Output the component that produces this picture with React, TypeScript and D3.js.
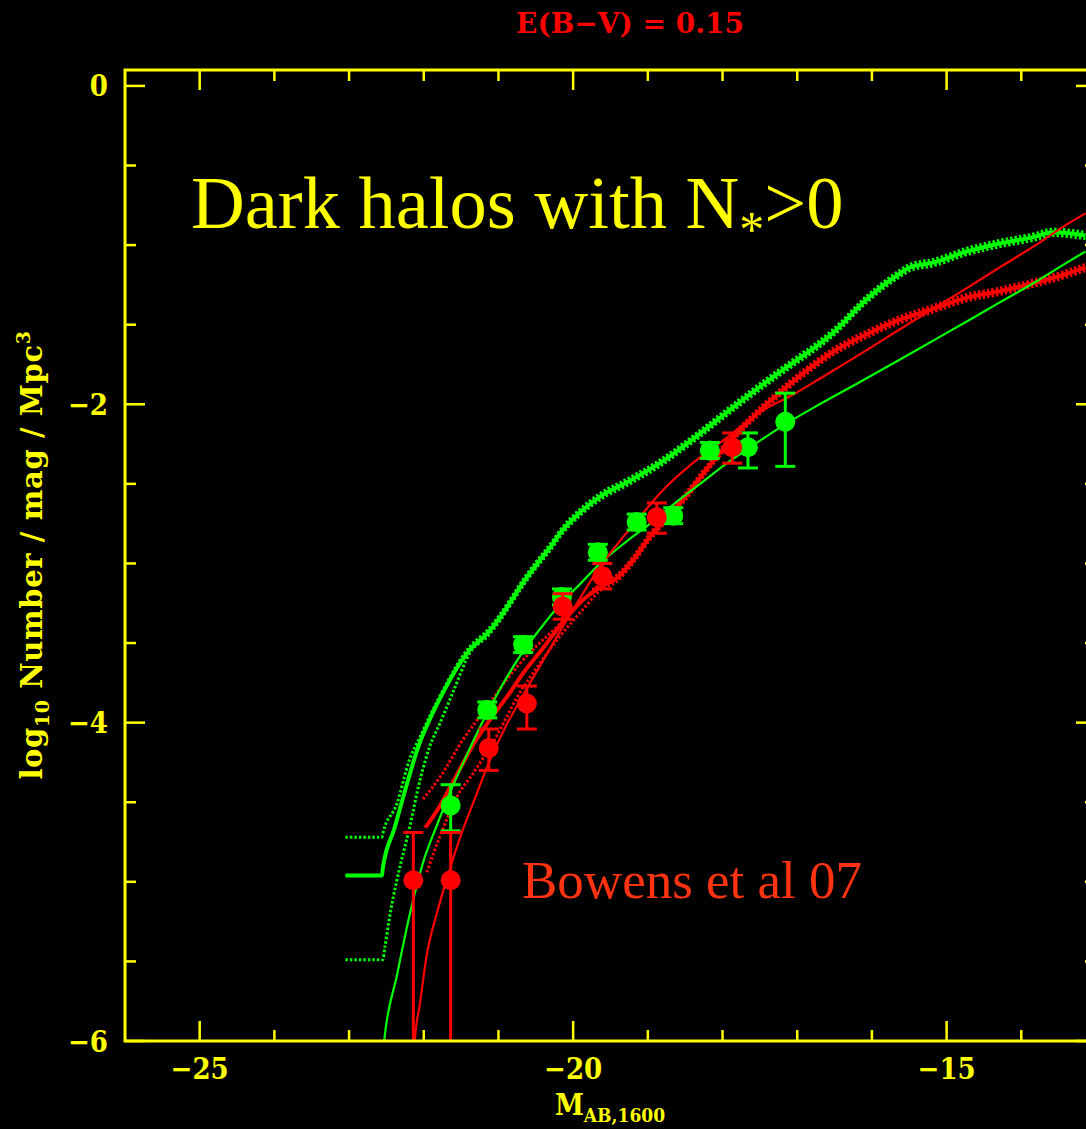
import React from 'react';
import * as d3 from 'd3';

const W = 1086;
const H = 1129;

// ---- Model: dark halos with N*>0 (green, thick) ----
const greenModelM = [-23.05, -22.56, -22.55, -22.39, -22.21, -22.08, -21.92, -21.74, -21.56, -21.38, -21.15, -20.98, -20.85, -20.67, -20.48, -20.31, -20.14, -19.91, -19.64, -19.28, -18.84, -18.40, -17.94, -17.50, -17.06, -16.70, -16.52, -16.07, -15.63, -15.49, -15.18, -14.73, -14.29, -13.84, -13.58, -13.14];
const greenModelLogPhi = [-4.96, -4.96, -4.92, -4.66, -4.36, -4.16, -3.98, -3.81, -3.66, -3.54, -3.44, -3.34, -3.25, -3.12, -3.00, -2.90, -2.79, -2.68, -2.58, -2.49, -2.37, -2.22, -2.05, -1.89, -1.74, -1.62, -1.55, -1.34, -1.18, -1.14, -1.11, -1.04, -0.99, -0.95, -0.92, -0.94];

const greenUpperM = [-23.05, -22.56, -22.55, -22.36, -22.19, -22.05, -21.88, -21.69, -21.52, -21.38, -21.15, -20.98, -20.85, -20.67, -20.48, -20.31, -20.14, -19.91, -19.64, -19.28, -18.84, -18.40, -17.94, -17.50, -17.06, -16.70, -16.52, -16.07, -15.63, -15.49, -15.18, -14.73, -14.29, -13.84, -13.58, -13.14];
const greenUpperLogPhi = [-4.72, -4.72, -4.70, -4.51, -4.23, -4.09, -3.92, -3.75, -3.61, -3.52, -3.42, -3.32, -3.23, -3.10, -2.98, -2.88, -2.77, -2.66, -2.56, -2.47, -2.35, -2.20, -2.03, -1.87, -1.72, -1.60, -1.53, -1.32, -1.16, -1.12, -1.09, -1.02, -0.97, -0.93, -0.90, -0.92];

const greenLowerM = [-23.05, -22.55, -22.52, -22.45, -22.36, -22.19, -22.05, -21.92, -21.78, -21.61, -21.38, -21.15, -20.98, -20.85, -20.67, -20.48, -20.31, -20.14, -19.91, -19.64, -19.28, -18.84, -18.40, -17.94, -17.50, -17.06, -16.70, -16.52, -16.07, -15.63, -15.49, -15.18, -14.73, -14.29, -13.84, -13.58, -13.14];
const greenLowerLogPhi = [-5.49, -5.49, -5.41, -5.20, -4.99, -4.66, -4.36, -4.15, -4.00, -3.81, -3.56, -3.46, -3.36, -3.27, -3.14, -3.02, -2.92, -2.81, -2.70, -2.60, -2.51, -2.39, -2.24, -2.07, -1.91, -1.76, -1.64, -1.57, -1.36, -1.20, -1.16, -1.13, -1.06, -1.01, -0.97, -0.94, -0.96];

// ---- Model (red, thick) ----
const redModelM = [-21.98, -21.78, -21.56, -21.34, -21.11, -20.89, -20.67, -20.40, -20.14, -19.87, -19.64, -19.41, -19.20, -18.97, -18.74, -18.53, -18.30, -18.08, -17.86, -17.41, -16.96, -16.52, -16.07, -15.63, -15.18, -14.73, -14.29, -13.84, -13.39, -13.14];
const redModelLogPhi = [-4.66, -4.52, -4.33, -4.14, -3.98, -3.84, -3.69, -3.53, -3.37, -3.23, -3.15, -3.09, -2.98, -2.83, -2.71, -2.60, -2.46, -2.33, -2.21, -2.00, -1.82, -1.67, -1.56, -1.47, -1.40, -1.33, -1.29, -1.24, -1.18, -1.14];

const redUpperM = [-22.01, -21.78, -21.48, -21.15, -20.89, -20.58, -20.22, -19.95, -19.64, -19.41, -19.20, -18.97, -18.74, -18.53, -18.30, -18.08, -17.86, -17.41, -16.96, -16.52, -16.07, -15.63, -15.18, -14.73, -14.29, -13.84, -13.39, -13.14];
const redUpperLogPhi = [-4.48, -4.34, -4.11, -3.90, -3.73, -3.56, -3.40, -3.27, -3.13, -3.07, -2.96, -2.81, -2.69, -2.58, -2.44, -2.31, -2.19, -1.98, -1.80, -1.65, -1.54, -1.45, -1.38, -1.31, -1.27, -1.22, -1.16, -1.12];

const redLowerM = [-21.96, -21.78, -21.56, -21.34, -21.02, -20.75, -20.48, -20.18, -19.87, -19.64, -19.41, -19.20, -18.97, -18.74, -18.53, -18.30, -18.08, -17.86, -17.41, -16.96, -16.52, -16.07, -15.63, -15.18, -14.73, -14.29, -13.84, -13.39, -13.14];
const redLowerLogPhi = [-4.94, -4.71, -4.47, -4.32, -4.08, -3.84, -3.65, -3.46, -3.29, -3.17, -3.11, -3.00, -2.85, -2.73, -2.62, -2.48, -2.35, -2.23, -2.02, -1.84, -1.69, -1.58, -1.49, -1.42, -1.35, -1.31, -1.26, -1.20, -1.16];

// ---- Thin fits ----
const redFitM = [-22.14, -22.12, -22.05, -21.96, -21.82, -21.69, -21.52, -21.31, -21.11, -20.91, -20.71, -20.44, -20.18, -19.91, -19.64, -19.41, -19.11, -18.84, -18.40, -17.94, -17.50, -17.06, -16.70, -16.07, -15.63, -15.18, -14.73, -14.29, -13.84, -13.39, -13.14];
const redFitLogPhi = [-6.15, -6.00, -5.76, -5.46, -5.19, -4.98, -4.73, -4.47, -4.23, -4.03, -3.86, -3.64, -3.43, -3.22, -3.02, -2.88, -2.71, -2.56, -2.37, -2.21, -2.05, -1.94, -1.84, -1.66, -1.53, -1.40, -1.27, -1.14, -1.01, -0.87, -0.80];

const greenFitM = [-22.56, -22.53, -22.36, -22.19, -22.01, -21.82, -21.65, -21.45, -21.25, -20.98, -20.71, -20.44, -20.18, -19.91, -19.64, -19.28, -18.97, -18.66, -18.30, -17.94, -17.63, -17.14, -16.70, -16.16, -15.63, -15.18, -14.73, -14.29, -13.84, -13.39, -13.14];
const greenFitLogPhi = [-6.15, -6.00, -5.59, -5.21, -4.88, -4.64, -4.44, -4.23, -4.03, -3.79, -3.58, -3.41, -3.26, -3.13, -3.00, -2.86, -2.75, -2.63, -2.50, -2.37, -2.27, -2.12, -2.00, -1.86, -1.72, -1.60, -1.48, -1.36, -1.24, -1.11, -1.04];

// ---- Data points ----
const greenDataM = [-21.64, -21.15, -20.67, -20.15, -19.67, -19.15, -18.66, -18.17, -17.66, -17.16];
const greenDataLogPhi = [-4.52, -3.92, -3.51, -3.21, -2.93, -2.74, -2.70, -2.29, -2.27, -2.11];
const greenErrHi = [0.13, 0.05, 0.05, 0.05, 0.05, 0.05, 0.05, 0.05, 0.09, 0.18];
const greenErrLo = [0.16, 0.05, 0.05, 0.05, 0.05, 0.05, 0.05, 0.05, 0.13, 0.28];

const redDataM = [-22.14, -21.64, -21.13, -20.62, -20.14, -19.61, -18.88, -17.87];
const redDataLogPhi = [-4.99, -4.99, -4.16, -3.88, -3.27, -3.08, -2.71, -2.27];
const redErrHi = [0.30, 0.30, 0.12, 0.11, 0.08, 0.08, 0.09, 0.09];
const redErrLo = [2.0, 2.0, 0.14, 0.16, 0.08, 0.08, 0.10, 0.10];

// ---- Axes ----
const xDomain = [-26, -13];
const yDomain = [-6, 0.1];
const xTickLabels = [-25, -20, -15];
const yTickLabels = [0, -2, -4, -6];

const YELLOW = '#ffff00';
const GREEN = '#00ff00';
const RED = '#ff0000';
const AXIS_FONT = "'DejaVu Serif', 'Liberation Serif', serif";
const TIMES = "'Liberation Serif', 'Times New Roman', serif";

const fmt = (v: number) => (v < 0 ? '\u2212' + Math.abs(v) : String(v));

export default function App() {
  const left = 125, right = 1096, top = 70, bottom = 1041;
  const x = d3.scaleLinear().domain(xDomain).range([left, right]);
  const y = d3.scaleLinear().domain(yDomain).range([bottom, top]);

  const path = (ms: number[], ps: number[]) =>
    d3.line<number>()
      .x((_, i) => x(ms[i]))
      .y((_, i) => y(ps[i]))
      .curve(d3.curveMonotoneX)(ms) || '';

  const xMinor = d3.range(-25, -13 + 0.001, 1);
  const yMinor = d3.range(-6, 0.001, 0.5);

  const errorBars = (ms: number[], ps: number[], hi: number[], lo: number[], color: string) =>
    ms.map((m, i) => {
      const cx = x(m);
      const yt = y(ps[i] + hi[i]);
      const yb = y(ps[i] - lo[i]);
      return (
        <g key={'e' + i} stroke={color} strokeWidth={3}>
          <line x1={cx} x2={cx} y1={yt} y2={yb} />
          <line x1={cx - 10} x2={cx + 10} y1={yt} y2={yt} />
          <line x1={cx - 10} x2={cx + 10} y1={yb} y2={yb} />
        </g>
      );
    });

  const points = (ms: number[], ps: number[], color: string) =>
    ms.map((m, i) => <circle key={'p' + i} cx={x(m)} cy={y(ps[i])} r={10} fill={color} />);

  return (
    <svg width={W} height={H} style={{ position: 'fixed', left: 0, top: 0, display: 'block' }}>
      <rect x={0} y={0} width={W} height={H} fill="#000" />
      <defs>
        <clipPath id="plotClip">
          <rect x={left} y={top} width={right - left} height={bottom - top} />
        </clipPath>
      </defs>

      {/* title */}
      <text x={630} y={33} fill={RED} fontFamily={AXIS_FONT} fontWeight="bold" fontSize={28}
        textAnchor="middle">E(B{'\u2212'}V) = 0.15</text>

      <g clipPath="url(#plotClip)" fill="none" strokeLinejoin="round">
        {/* green model */}
        <path d={path(greenModelM, greenModelLogPhi)} stroke={GREEN} strokeWidth={4} />
        <path d={path(greenUpperM, greenUpperLogPhi)} stroke={GREEN} strokeWidth={3} strokeDasharray="2.5,2" />
        <path d={path(greenLowerM, greenLowerLogPhi)} stroke={GREEN} strokeWidth={3} strokeDasharray="2.5,2" />
        {/* red model */}
        <path d={path(redModelM, redModelLogPhi)} stroke={RED} strokeWidth={4} />
        <path d={path(redUpperM, redUpperLogPhi)} stroke={RED} strokeWidth={3} strokeDasharray="2.5,2" />
        <path d={path(redLowerM, redLowerLogPhi)} stroke={RED} strokeWidth={3} strokeDasharray="2.5,2" />
        {/* fits */}
        <path d={path(greenFitM, greenFitLogPhi)} stroke={GREEN} strokeWidth={2.2} />
        <path d={path(redFitM, redFitLogPhi)} stroke={RED} strokeWidth={2.2} />
      </g>

      <g clipPath="url(#plotClip)">
        {errorBars(greenDataM, greenDataLogPhi, greenErrHi, greenErrLo, GREEN)}
        {points(greenDataM, greenDataLogPhi, GREEN)}
        {errorBars(redDataM, redDataLogPhi, redErrHi, redErrLo, RED)}
        {points(redDataM, redDataLogPhi, RED)}
      </g>

      {/* frame */}
      <rect x={left} y={top} width={right - left} height={bottom - top} fill="none" stroke={YELLOW} strokeWidth={3} />

      {/* ticks */}
      <g stroke={YELLOW} strokeWidth={2.5}>
        {xMinor.map((v) => {
          const len = xTickLabels.includes(v) ? 20 : 11;
          return (
            <g key={'xt' + v}>
              <line x1={x(v)} x2={x(v)} y1={bottom} y2={bottom - len} />
              <line x1={x(v)} x2={x(v)} y1={top} y2={top + len} />
            </g>
          );
        })}
        {yMinor.map((v) => {
          const len = yTickLabels.includes(v) ? 20 : 11;
          return (
            <g key={'yt' + v}>
              <line x1={left} x2={left + len} y1={y(v)} y2={y(v)} />
              <line x1={right} x2={right - len} y1={y(v)} y2={y(v)} />
            </g>
          );
        })}
      </g>

      <g fill={YELLOW} fontFamily={AXIS_FONT} fontWeight="bold" fontSize={29}>
        <g style={{ fontStretch: 'condensed' }}>
          {xTickLabels.map((v) => (
            <text key={'xl' + v} x={x(v)} y={1079} textAnchor="middle">{fmt(v)}</text>
          ))}
          {yTickLabels.map((v) => (
            <text key={'yl' + v} x={108} y={y(v) + 10.5} textAnchor="end">{fmt(v)}</text>
          ))}
          <text x={610} y={1115} textAnchor="middle">
            M<tspan fontSize={19} dy={7}>AB,1600</tspan>
          </text>
        </g>
        <text transform="translate(42,555) rotate(-90)" textAnchor="middle" letterSpacing={0.6}>
          log<tspan fontSize={19} dy={7}>10</tspan><tspan dy={-7}> Number / mag / Mpc</tspan><tspan fontSize={19} dy={-12}>3</tspan>
        </text>
      </g>

      {/* annotations */}
      <text x={191} y={228} fill={YELLOW} fontFamily={TIMES} fontSize={74.5}>
        Dark halos with N<tspan fontSize={50} dy={18}>*</tspan><tspan dy={-18}>&gt;0</tspan>
      </text>
      <text x={522} y={898} fill="#ff3311" fontFamily={TIMES} fontSize={53}>Bowens et al 07</text>
    </svg>
  );
}
